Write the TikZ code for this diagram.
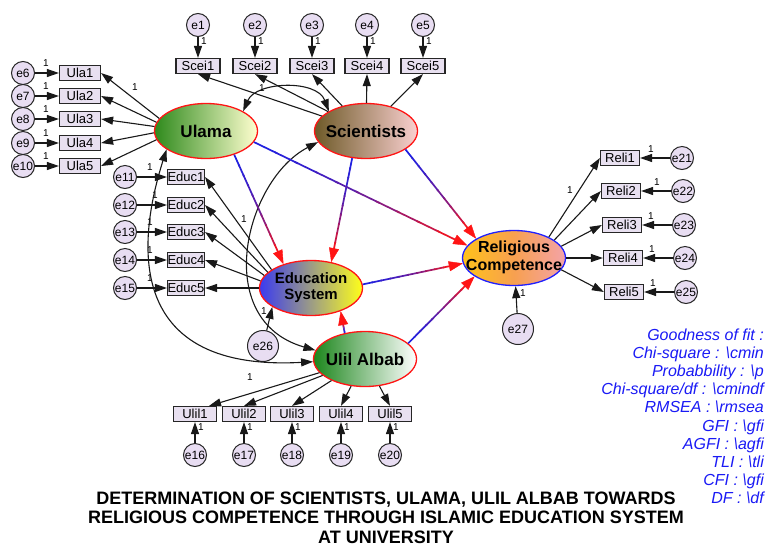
\documentclass[tikz,border=0pt]{standalone}
\usepackage{fontspec}
\setmainfont{Liberation Sans}
\usetikzlibrary{arrows.meta,calc,shapes.geometric}
\definecolor{boxfill}{HTML}{E8E0F0}
\definecolor{errfill}{HTML}{E8DDF2}
\definecolor{ulL}{HTML}{2F8A1C}
\definecolor{ulR}{HTML}{FFFFD0}
\definecolor{scL}{HTML}{6E5A28}
\definecolor{scR}{HTML}{FAD0D0}
\definecolor{esL}{HTML}{3A3AF0}
\definecolor{esR}{HTML}{FFFF1A}
\definecolor{rcL}{HTML}{FFC21A}
\definecolor{rcM}{HTML}{F7A050}
\definecolor{rcR}{HTML}{F4A3A8}
\definecolor{uaL}{HTML}{1C861C}
\definecolor{uaR}{HTML}{FFFFFF}
\definecolor{fitblue}{HTML}{1A1AF5}
\definecolor{redline}{HTML}{FF1414}
\definecolor{blueline}{HTML}{2020E0}
\definecolor{rcborder}{HTML}{2020FF}
\newcommand\nowid[1]{\makebox[0pt]{#1}}
\newcommand\gradarrow[2]{%
  \coordinate (ga-s) at (#1);
  \coordinate (ga-e) at (#2);
  \coordinate (ga-b) at ($(ga-e)!11pt!(ga-s)$);
  \foreach \k in {0,...,9}{%
    \pgfmathsetmacro\ta{\k/10}%
    \pgfmathsetmacro\tb{min(1,(\k+1.15)/10)}%
    \pgfmathtruncatemacro\pc{100*((\k+0.5)/10)^1.7}%
    \draw[line width=1.7pt,redline!\pc!blueline] ($(ga-s)!\ta!(ga-b)$) -- ($(ga-s)!\tb!(ga-b)$);
  }%
  \draw[redline,line width=0.4pt,-{Triangle[length=14pt,width=10pt]}] ($(ga-e)!16pt!(ga-s)$) -- (ga-e);
}
\begin{document}
\begin{tikzpicture}[x=1pt,y=-1pt,
  err/.style={circle,draw=black!85,line width=1pt,fill=errfill,minimum size=23pt,inner sep=0pt,font=\fontsize{12}{12}\selectfont},
  bigerr/.style={err,minimum size=31pt},
  obs/.style={rectangle,draw=black!85,line width=1.2pt,fill=boxfill,minimum height=15pt,inner sep=0pt,font=\fontsize{13}{13}\selectfont},
  lat/.style={ellipse,draw=redline,line width=1.3pt,minimum width=103pt,minimum height=55pt,inner sep=0pt,font=\bfseries\fontsize{17}{17}\selectfont},
  arr/.style={-{Triangle[length=12pt,width=8pt]},line width=1.1pt,black!90},
  cov/.style={{Triangle[length=12pt,width=8pt]}-{Triangle[length=12pt,width=8pt]},line width=1.1pt,black!90},
  one/.style={font=\fontsize{10}{10}\selectfont,inner sep=0pt},
  fittext/.style={font=\itshape\fontsize{16}{16}\selectfont,text=fitblue,inner sep=0pt,anchor=base east},
  titletext/.style={font=\bfseries\fontsize{18}{18}\selectfont,inner sep=0pt,anchor=base}]
\useasboundingbox (0,0) rectangle (768,547);
\fill[white] (0,0) rectangle (768,547);

% latent variables
\node[lat,left color=ulL,right color=ulR] (ulama) at (206,131) {\nowid{Ulama}};
\node[lat,left color=scL,right color=scR] (sci) at (366,131) {\nowid{Scientists}};
\node[lat,left color=esL,right color=esR,font=\bfseries\fontsize{15}{16}\selectfont] (es) at (311,288) {\nowid{\begin{tabular}{@{}c@{}}Education\\System\end{tabular}}};
\node[lat,draw=rcborder,left color=rcL,right color=rcR,middle color=rcM,font=\bfseries\fontsize{16}{18}\selectfont] (rc) at (514,258) {\nowid{\begin{tabular}{@{}c@{}}Religious\\Competence\end{tabular}}};
\node[lat,left color=uaL,right color=uaR] (ulil) at (365,359) {\nowid{Ulil Albab}};

% Scientists indicators
\foreach \x/\n in {198/1,255/2,312/3,367/4,423/5}{
  \node[obs,minimum width=44pt] (scei\n) at (\x,66) {Scei\n};
  \node[err] (e\n) at (\x,25) {e\n};
  \draw[arr] (e\n) -- (scei\n);
  \draw[arr] (sci) -- (scei\n.south);
  \node[one] (os\n) at (\x+6,41) {1};
}

% Ulama indicators
\foreach \y/\n/\a [count=\k from 6] in {73/1/165,96/2/170,119/3/175,143/4/182,166/5/190}{
  \node[obs,minimum width=41pt] (ula\n) at (80,\y) {Ula\n};
  \node[err] (e\k) at (23,\y) {e\k};
  \draw[arr] (e\k) -- (ula\n);
  \draw[arr] (ulama.\a) -- (ula\n.east);
  \node[one] (ou\n) at (46,\y-10) {1};
}

% Education indicators
\foreach \y/\n/\a/\lx [count=\k from 11] in {177/1/155/150,205/2/160/155,232/3/165/150,260/4/172/150,288/5/180/150}{
  \node[obs,minimum width=36pt] (educ\n) at (186,\y) {Educ\n};
  \node[err] (e\k) at (125,\y) {e\k};
  \draw[arr] (e\k) -- (educ\n);
  \draw[arr] (es.\a) -- (educ\n.east);
  \node[one] (oe\n) at (\lx,\y-10) {1};
}

% Ulil Albab indicators
\foreach \x/\n/\a [count=\k from 16] in {195/1/30,244/2/90,292/3/90,341/4/90,390/5/90}{
  \node[obs,minimum width=43pt] (ulil\n) at (\x,414) {Ulil\n};
  \node[err] (e\k) at (\x,455) {e\k};
  \draw[arr] (e\k) -- (ulil\n);
  \draw[arr] (ulil) -- (ulil\n.\a);
  \node[one] (ol\n) at (\x+6,427) {1};
}

% Religious competence indicators
\foreach \y/\n/\a/\lx [count=\k from 21] in {158/1/31/651,191/2/24/657,225/3/14/651,258/4/0/652,292/5/346/653}{
  \node[obs,minimum width=39pt] (reli\n) at (619+\n,\y) {Reli\n};
  \node[err] (e\k) at (681+\n,\y) {e\k};
  \draw[arr] (e\k) -- (reli\n);
  \draw[arr] (rc.\a) -- (reli\n.west);
  \node[one] (or\n) at (\lx,\y-9) {1};
}

% disturbances
\node[bigerr] (e26) at (263,346) {e26};
\node[bigerr] (e27) at (518,329) {e27};
\draw[arr] (e26) -- (es.206);
\draw[arr] (e27) -- (rc);

% covariances
\draw[cov] (ulama.28) .. controls +(13,-30) and +(-12,-32) .. (sci.152);
\draw[cov] (ulama.205) .. controls +(-32,101) and +(-183,10) .. (ulil.183);
\draw[cov] (sci.193) .. controls +(-73,38) and +(-105,-30) .. (ulil.170);

% structural paths
\gradarrow{ulama.320}{es.139}
\gradarrow{sci.243}{es.52}
\gradarrow{ulama.347}{rc.165}
\gradarrow{sci.335}{rc.153}
\gradarrow{es.4}{rc.186}
\gradarrow{ulil.20}{rc.205}
\gradarrow{ulil.128}{es.322}

% fixed loadings
\node[one] (l1) at (135,87) {1};
\node[one] (l2) at (262,88) {1};
\node[one] (l3) at (244,219) {1};
\node[one] (l4) at (250,377) {1};
\node[one] (l5) at (570,190) {1};
\node[one] (l6) at (264,311) {1};
\node[one] (l7) at (523,293) {1};

% fit indices
\foreach \t [count=\i] in {Goodness of fit :,Chi-square : \textbackslash cmin,Probabbility : \textbackslash p,Chi-square/df : \textbackslash cmindf,RMSEA : \textbackslash rmsea,GFI : \textbackslash gfi,AGFI : \textbackslash agfi,TLI : \textbackslash tli,CFI : \textbackslash gfi,DF : \textbackslash df}
  \node[fittext] (fit\i) at (764,{340+(\i-1)*18.2}) {\t};

% title
\node[titletext] (t1) at (386,504) {DETERMINATION OF SCIENTISTS, ULAMA, ULIL ALBAB TOWARDS};
\node[titletext] (t2) at (386,523.5) {RELIGIOUS COMPETENCE THROUGH ISLAMIC EDUCATION SYSTEM};
\node[titletext] (t3) at (386,543) {AT UNIVERSITY};
\end{tikzpicture}
\end{document}
